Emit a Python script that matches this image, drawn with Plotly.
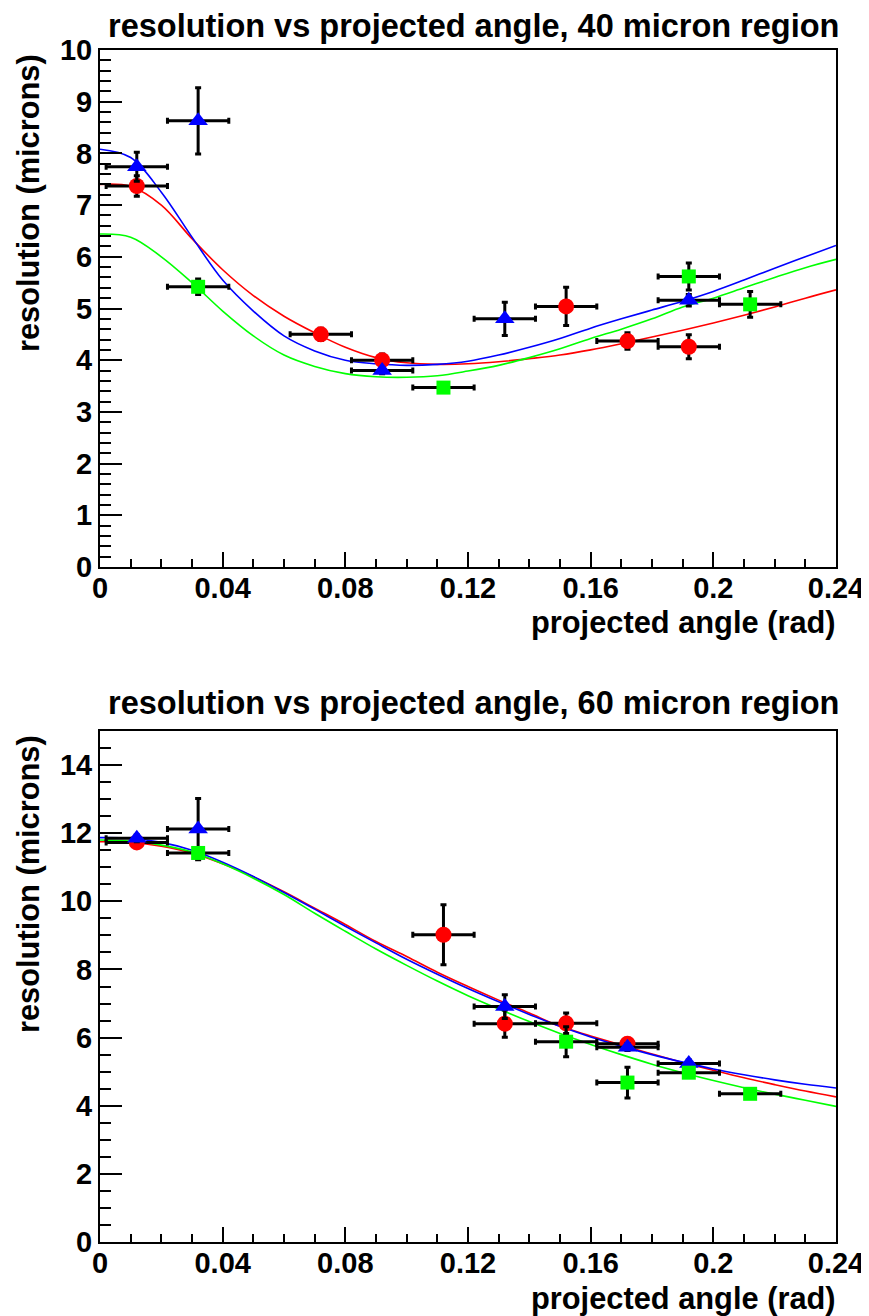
import plotly.graph_objects as go

# ---------------- data: top panel (40 micron region) ----------------
top_red_x = [0.012, 0.072, 0.092, 0.152, 0.172, 0.192]
top_red_y = [7.37, 4.50, 4.00, 5.04, 4.37, 4.26]
top_red_ey = [0.20, 0.12, 0.12, 0.37, 0.16, 0.23]

top_blue_x = [0.012, 0.032, 0.092, 0.132, 0.192]
top_blue_y = [7.74, 8.63, 3.80, 4.80, 5.16]
top_blue_ey = [0.28, 0.64, 0.06, 0.32, 0.11]

top_green_x = [0.032, 0.112, 0.192, 0.212]
top_green_y = [5.42, 3.47, 5.62, 5.08]
top_green_ey = [0.15, 0.03, 0.26, 0.25]

# ---------------- data: bottom panel (60 micron region) ----------------
bot_red_x = [0.012, 0.112, 0.132, 0.152, 0.172]
bot_red_y = [11.73, 9.02, 6.41, 6.42, 5.82]
bot_red_ey = [0.10, 0.88, 0.40, 0.30, 0.10]

bot_blue_x = [0.012, 0.032, 0.132, 0.172, 0.192]
bot_blue_y = [11.85, 12.12, 6.91, 5.72, 5.24]
bot_blue_ey = [0.10, 0.90, 0.35, 0.10, 0.10]

bot_green_x = [0.032, 0.152, 0.172, 0.192, 0.212]
bot_green_y = [11.42, 5.88, 4.68, 4.97, 4.35]
bot_green_ey = [0.10, 0.44, 0.45, 0.08, 0.05]

x_err = 0.01

# ---------------- fitted curves ----------------
fit_x = [0.0, 0.01, 0.02, 0.03, 0.04, 0.05, 0.06, 0.07, 0.08, 0.09, 0.10, 0.11, 0.12,
         0.13, 0.14, 0.15, 0.16, 0.17, 0.18, 0.19, 0.20, 0.21, 0.22, 0.23, 0.24]

top_red_fit = [7.40, 7.36, 7.00, 6.35, 5.75, 5.25, 4.85, 4.53, 4.25, 4.05, 3.95, 3.92, 3.93,
               3.97, 4.03, 4.10, 4.20, 4.32, 4.45, 4.58, 4.72, 4.87, 5.03, 5.20, 5.36]
top_blue_fit = [8.08, 7.92, 7.25, 6.38, 5.55, 4.95, 4.47, 4.18, 4.00, 3.93, 3.90, 3.92, 3.98,
                4.10, 4.25, 4.42, 4.62, 4.80, 4.97, 5.14, 5.33, 5.55, 5.78, 6.00, 6.22]
top_green_fit = [6.44, 6.38, 6.00, 5.50, 4.95, 4.47, 4.10, 3.88, 3.74, 3.68, 3.67, 3.70, 3.79,
                 3.90, 4.05, 4.22, 4.42, 4.60, 4.80, 5.03, 5.20, 5.40, 5.60, 5.79, 5.95]

bot_red_fit = [11.75, 11.73, 11.62, 11.42, 11.10, 10.72, 10.28, 9.80, 9.32, 8.82, 8.38, 7.92, 7.50,
               7.10, 6.72, 6.33, 6.05, 5.78, 5.52, 5.27, 5.04, 4.82, 4.62, 4.43, 4.26]
bot_blue_fit = [11.87, 11.85, 11.73, 11.50, 11.15, 10.73, 10.26, 9.77, 9.27, 8.78, 8.30, 7.86, 7.44,
                7.05, 6.68, 6.33, 6.02, 5.75, 5.50, 5.28, 5.08, 4.91, 4.76, 4.63, 4.52]
bot_green_fit = [11.80, 11.77, 11.65, 11.45, 11.10, 10.68, 10.20, 9.65, 9.12, 8.60, 8.12, 7.66, 7.23,
                 6.84, 6.47, 6.12, 5.80, 5.50, 5.22, 4.97, 4.74, 4.53, 4.34, 4.16, 3.98]

x_ticks = [0, 0.04, 0.08, 0.12, 0.16, 0.2, 0.24]
x_tick_text = ["0", "0.04", "0.08", "0.12", "0.16", "0.2", "0.24"]

RED = "#ff0000"
BLUE = "#0000ff"
GREEN = "#00ff00"
FONT = "Liberation Sans"

W, H = 869, 1316
OFF = 8  # default page margin of the html body


def fx(px):
    return (px - OFF) / W


def fy(py):
    return (H - (py - OFF)) / H


fig = go.Figure()


def add_panel(xa, ya, fits, series):
    for yv, col in fits:
        fig.add_trace(go.Scatter(x=fit_x, y=yv, mode="lines", line=dict(color=col, width=1.6, shape="spline"),
                                 xaxis=xa, yaxis=ya, showlegend=False, hoverinfo="skip"))
    for xs, ys, es, col, sym, size in series:
        fig.add_trace(go.Scatter(
            x=xs, y=ys, mode="markers",
            marker=dict(color=col, symbol=sym, size=size, line=dict(width=0)),
            error_x=dict(type="constant", value=x_err, color="black", thickness=3, width=3),
            error_y=dict(type="data", array=es, color="black", thickness=3, width=3),
            xaxis=xa, yaxis=ya, showlegend=False))


add_panel("x", "y",
          [(top_red_fit, RED), (top_blue_fit, BLUE), (top_green_fit, GREEN)],
          [(top_red_x, top_red_y, top_red_ey, RED, "circle", 16),
           (top_blue_x, top_blue_y, top_blue_ey, BLUE, "triangle-up", 17),
           (top_green_x, top_green_y, top_green_ey, GREEN, "square", 14)])
add_panel("x2", "y2",
          [(bot_red_fit, RED), (bot_blue_fit, BLUE), (bot_green_fit, GREEN)],
          [(bot_red_x, bot_red_y, bot_red_ey, RED, "circle", 16),
           (bot_blue_x, bot_blue_y, bot_blue_ey, BLUE, "triangle-up", 17),
           (bot_green_x, bot_green_y, bot_green_ey, GREEN, "square", 14)])

x_dom = [fx(100), fx(836)]
top_dom = [fy(567), fy(50)]
bot_dom = [fy(1242), fy(731)]

tickfont = dict(family=FONT, size=29, color="black", weight="bold")


def xaxis_cfg(anchor):
    return dict(domain=x_dom, range=[0, 0.24], anchor=anchor, showgrid=False, zeroline=False,
                automargin=False, ticklabeloverflow="allow",
                showline=True, linecolor="black", linewidth=2, mirror=True,
                ticks="inside", ticklen=15, tickwidth=1.5, tickcolor="black",
                tickvals=x_ticks, ticktext=x_tick_text, tickfont=tickfont, ticklabelstandoff=-6,
                minor=dict(ticks="inside", ticklen=8, tickwidth=1.5, tickcolor="black", dtick=0.01))


def yaxis_cfg(anchor, dom, rng, dtick, minor_dtick):
    return dict(domain=dom, range=rng, anchor=anchor, showgrid=False, zeroline=False,
                automargin=False, ticklabeloverflow="allow",
                showline=True, linecolor="black", linewidth=2, mirror=True,
                ticks="inside", ticklen=22, tickwidth=1.5, tickcolor="black",
                dtick=dtick, tick0=0, tickfont=tickfont, ticklabelstandoff=0,
                minor=dict(ticks="inside", ticklen=11, tickwidth=1.5, tickcolor="black",
                           dtick=minor_dtick, tick0=0))


titlefont = dict(family=FONT, size=32.5, color="black", weight="bold")
axfont = dict(family=FONT, size=30.8, color="black", weight="bold")

annotations = [
    dict(text="resolution vs projected angle, 40 micron region", x=fx(473), y=fy(26),
         xref="paper", yref="paper", xanchor="center", yanchor="middle", showarrow=False, font=titlefont),
    dict(text="resolution vs projected angle, 60 micron region", x=fx(473), y=fy(703),
         xref="paper", yref="paper", xanchor="center", yanchor="middle", showarrow=False, font=titlefont),
    dict(text="projected angle (rad)", x=fx(838), y=fy(622),
         xref="paper", yref="paper", xanchor="right", yanchor="middle", showarrow=False, font=axfont),
    dict(text="projected angle (rad)", x=fx(838), y=fy(1298),
         xref="paper", yref="paper", xanchor="right", yanchor="middle", showarrow=False, font=axfont),
    dict(text="resolution (microns)", x=fx(28), y=fy(52), textangle=-90,
         xref="paper", yref="paper", xanchor="center", yanchor="top", showarrow=False, font=axfont),
    dict(text="resolution (microns)", x=fx(28), y=fy(733), textangle=-90,
         xref="paper", yref="paper", xanchor="center", yanchor="top", showarrow=False, font=axfont),
]

fig.update_layout(
    width=W, height=H, margin=dict(l=0, r=0, t=0, b=0),
    paper_bgcolor="white", plot_bgcolor="white",
    font=dict(family=FONT, color="black"),
    xaxis=xaxis_cfg("y"), yaxis=yaxis_cfg("x", top_dom, [0, 10], 1, 0.2),
    xaxis2=xaxis_cfg("y2"), yaxis2=yaxis_cfg("x2", bot_dom, [0, 15], 2, 0.5),
    annotations=annotations, showlegend=False,
)

fig.write_html("out.html")
